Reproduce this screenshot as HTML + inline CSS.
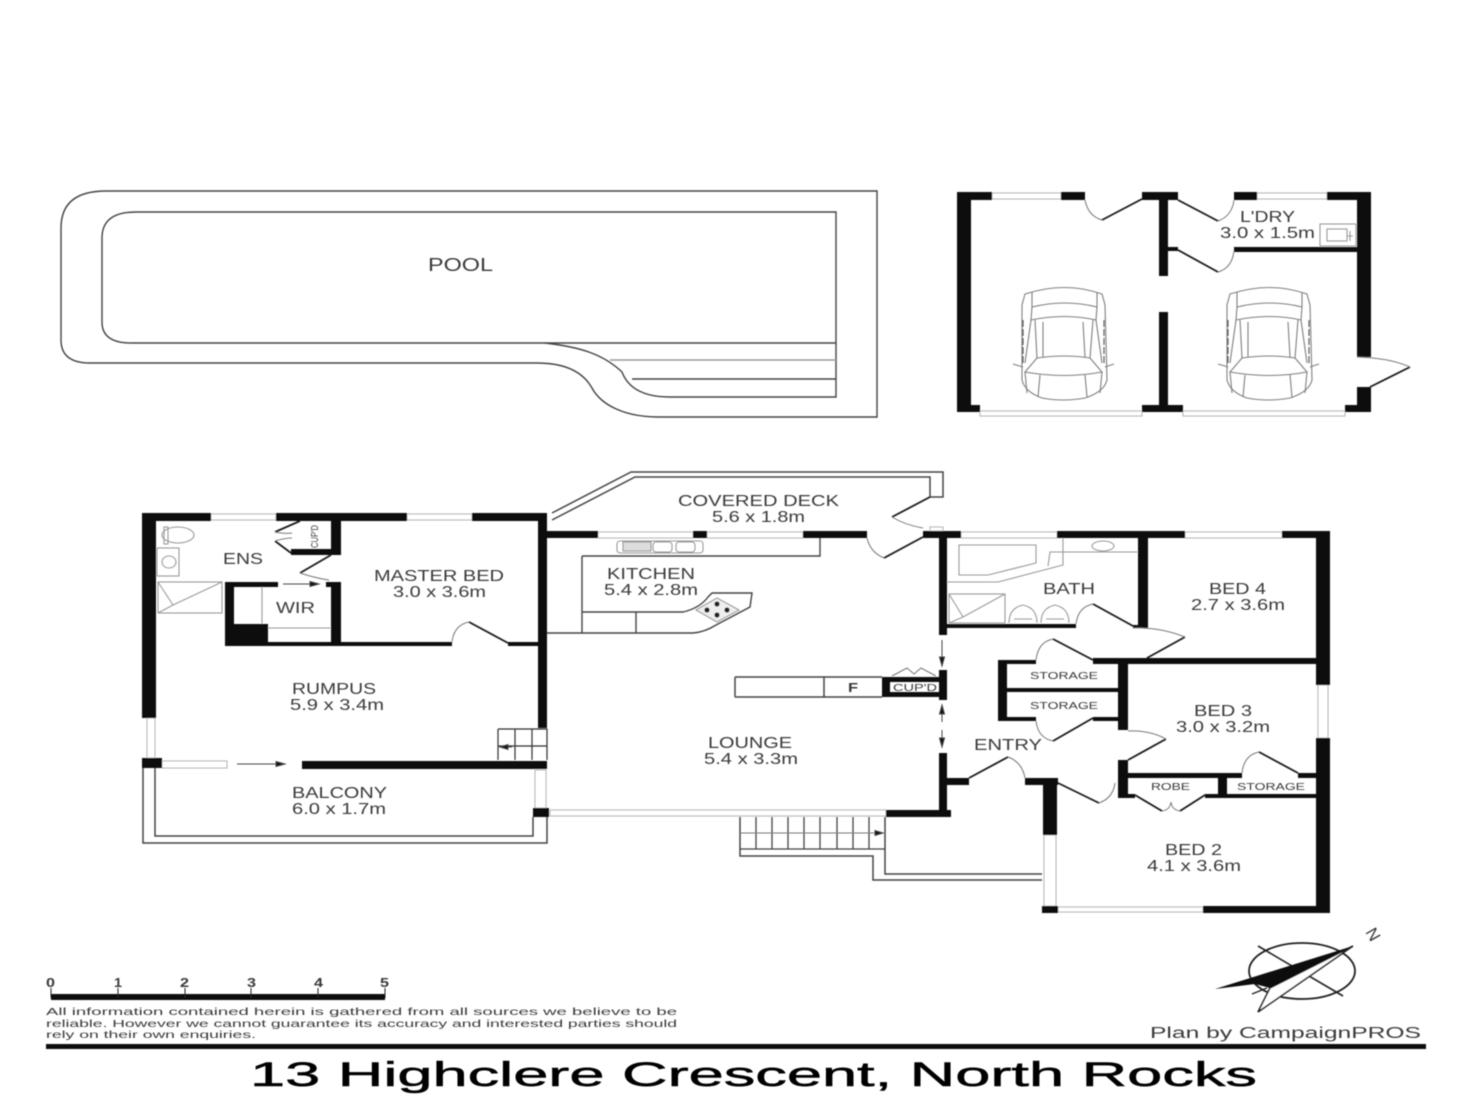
<!DOCTYPE html>
<html lang="en">
<head>
<meta charset="utf-8">
<title>13 Highclere Crescent, North Rocks floor plan</title>
<style>
html,body{margin:0;padding:0;background:#fff;width:1472px;height:1104px;overflow:hidden}
svg{display:block}
text{font-family:"Liberation Sans",sans-serif;fill:#3a3a3a}
.g{fill:none;stroke:#9a9a9a;stroke-width:1.1}
.d{fill:none;stroke:#1c1c1c;stroke-width:1.8}
.a{fill:none;stroke:#777;stroke-width:1}
.win{fill:#fff;stroke:#b5b5b5;stroke-width:1.1}
.l{fill:none;stroke:#444;stroke-width:1.5}
</style>
</head>
<body>
<svg width="1472" height="1104" viewBox="0 0 1472 1104" xmlns="http://www.w3.org/2000/svg">
<defs>
<filter id="b" x="-2%" y="-2%" width="104%" height="104%"><feGaussianBlur stdDeviation="0.65"/></filter>
<g id="car" fill="none" stroke="#7f7f7f" stroke-width="1.1">
<path d="M1025 294Q1065 281 1102 294L1105 305L1107 380Q1104 392 1085 398Q1063 402 1042 398Q1025 392 1022 380L1022 305Z"/>
<path d="M1032 292V307Q1065 299 1097 307V292"/>
<path d="M1032 307L1031 320Q1065 313 1096 320L1097 307"/>
<path d="M1035 320L1037 358Q1065 354 1090 358L1093 320"/>
<path d="M1037 358L1025 372Q1065 379 1102 372L1090 358"/>
<path d="M1043 322V357M1083 322L1085 357"/>
<path d="M1031 320L1025 363M1096 320L1102 363"/>
<path d="M1025 372L1027 393M1102 372L1100 393"/>
<path d="M1040 375L1038 397M1085 375L1087 397"/>
<path d="M1013 364L1023 367M1114 364L1105 367"/>
<path d="M1023 320V365M1104 320V365" stroke="#555" stroke-dasharray="7 2"/>
</g>
</defs>
<rect width="1472" height="1104" fill="#fff"/>
<g filter="url(#b)">

<!-- Pool -->
<g fill="none" stroke="#444" stroke-width="1.4">
<path d="M877 191H106Q61 191 61 228V340Q61 363 90 363H537C565 363 583 372 592 388C601 405 625 417 658 417H877Z"/>
<path d="M836 212H136Q102 212 102 238V322Q102 343 131 343H545C580 347 603 354 622 372C628 388 643 397 670 397H836Z"/>
<path d="M545 343H836"/>
<path d="M632 379H836"/>
<path d="M610 360H836" stroke="#999"/>
</g>

<!-- Cars -->
<use href="#car"/>
<use href="#car" transform="translate(205 0)"/>

<!-- Windows -->
<g class="win">
<rect x="992" y="193" width="69" height="6"/>
<rect x="1257" y="193" width="70" height="6"/>
<rect x="980" y="411" width="162" height="5"/>
<rect x="1183" y="411" width="162" height="5"/>
<rect x="211" y="514" width="65" height="6"/>
<rect x="407" y="514" width="65" height="6"/>
<rect x="147" y="718" width="8" height="40"/>
<rect x="162" y="761" width="65" height="7"/>
<rect x="535" y="770" width="11" height="38"/>
<rect x="598" y="532" width="95" height="6"/>
<rect x="707" y="532" width="96" height="6"/>
<rect x="550" y="810" width="336" height="6"/>
<rect x="961" y="532" width="96" height="6"/>
<rect x="1185" y="532" width="97" height="6"/>
<rect x="1318" y="685" width="10" height="53"/>
<rect x="1044" y="835" width="12" height="71"/>
<rect x="1058" y="907" width="145" height="5"/>
<rect x="930" y="527" width="13" height="4"/>
</g>

<!-- Balcony, deck, rails -->
<g class="l">
<path d="M143 768V843H547V817"/>
<path d="M155 768V836H533V817"/>
<path d="M552 513L631 472H943V497H930"/>
<path d="M552 520L635 477H930V497"/>
<path d="M740 817V856H873V880H1042"/>
<path d="M885 817V874H1042"/>
<path d="M756 817V849M772 817V849M788 817V849M804 817V849M820 817V849M837 817V849M853 817V849M869 817V849M740 849H885" stroke-width="1.3"/>
<path d="M740 833H885" stroke-width="1" stroke="#777"/>
<path d="M498 729H547V760M498 729V760M515 729V760M532 729V760M498 746H547" stroke-width="1.2" stroke="#333"/>
<!-- Kitchen -->
<path d="M582 556H820V538M582 556V633M547 633H693Q705 632 716 625L750 607L752 593H712L708 597Q700 608 683 612H582M636 612V633" stroke-width="1.4"/>
<path d="M735 677H882M735 697H882M735 677V697M824 677V697" stroke-width="1.5"/>
</g>

<!-- Fixtures -->
<g class="g">
<rect x="617" y="541" width="86" height="12" rx="3"/>
<rect x="623" y="542" width="28" height="9" fill="#ddd"/>
<rect x="653" y="542" width="19" height="10" rx="3"/>
<rect x="676" y="542" width="19" height="10" rx="3"/>
<ellipse cx="178" cy="535" rx="16" ry="8"/>
<rect x="164" y="527" width="4" height="17"/>
<rect x="157" y="548" width="22" height="28"/>
<ellipse cx="169" cy="562" rx="7" ry="6"/>
<rect x="158" y="582" width="64" height="31"/>
<path d="M158 582L173 605M222 582L173 605M158 613L173 605"/>
<path d="M262 587V624M268 628H331"/>
<rect x="1320" y="224" width="36" height="22"/>
<rect x="1327" y="229" width="20" height="12"/>
<path d="M1347 236H1353M1350 231V241"/>
<path d="M959 545H1036V563L988 575H959Z"/>
<path d="M1063 538V565L998 582H947"/>
<path d="M1138 552H1050L1048 566"/>
<ellipse cx="1103" cy="546" rx="11" ry="5"/>
<rect x="949" y="594" width="56" height="29"/>
<path d="M949 594L963 617M1005 594L963 617M949 623L963 617"/>
<path d="M1009 623Q1009 608 1023 605Q1037 608 1037 623M1041 623Q1041 608 1055 605Q1069 608 1069 623"/>
<path d="M1014 619H1032M1046 619H1064"/>
<path d="M696 610L717 598L739 610L717 622Z" fill="#eee"/>
</g>
<g fill="#222">
<circle cx="717" cy="604" r="2.6"/><circle cx="707" cy="610" r="2.6"/><circle cx="727" cy="610" r="2.6"/><circle cx="717" cy="615" r="2.6"/>
</g>

<!-- Walls -->
<path fill="#111" d="M957 192H992V200H957ZM957 192H971V412H957ZM1061 192H1085V200H1061ZM1142 192H1178V200H1142ZM1234 192H1257V200H1234ZM1327 192H1371V200H1327ZM1357 192H1371V357H1357ZM1357 387H1371V412H1357ZM1345 405H1371V412H1345ZM1159 192H1168V276H1159ZM1159 312H1168V412H1159ZM1168 247H1178V251H1168ZM1234 247H1357V252H1234ZM957 405H980V412H957ZM1142 405H1183V412H1142Z
M142 513H211V521H142ZM276 513H407V521H276ZM472 513H547V521H472ZM142 513H156V718H142ZM538 513H547V728H538ZM142 758H162V768H142ZM302 761H547V769H302ZM331 521H341V555H331ZM291 549H341V555H291ZM331 582H341V646H331ZM225 582H234V646H225ZM225 582H278V587H225ZM326 582H331V587H326ZM225 624H268V646H225ZM225 642H452V646H225ZM508 642H538V646H508Z
M547 531H598V538H547ZM693 531H707V538H693ZM803 531H867V538H803ZM923 531H961V538H923ZM939 538H947V635H939ZM939 670H947V700H939ZM882 677H939V682H890V692H939V697H882ZM939 753H947V817H939ZM886 810H951V817H886ZM947 778H969V785H947ZM1025 778H1058V785H1025ZM1043 785H1057V835H1043ZM533 808H549V817H533Z
M1057 531H1185V538H1057ZM1282 531H1330V538H1282ZM1316 531H1330V685H1316ZM1316 738H1330V913H1316ZM1042 906H1058V913H1042ZM1203 906H1330V913H1203ZM1138 538H1148V628H1138ZM947 624H1076V628H947ZM1133 625H1148V628H1133ZM1093 658H1316V664H1093ZM998 660H1007V721H998ZM998 660H1036V664H998ZM1007 688H1118V692H1007ZM998 717H1036V721H998ZM1093 717H1118V721H1093ZM1118 663H1128V730H1118ZM1118 760H1128V798H1118ZM1128 773H1242V778H1128ZM1298 773H1316V778H1298ZM1218 778H1227V795H1218ZM1118 794H1135V798H1118ZM1205 794H1316V798H1205Z"/>
<rect x="540" y="513" width="7" height="18" fill="#111"/>

<!-- Doors -->
<g class="d">
<path d="M1142 199L1102 220"/><path d="M1178 200L1218 221"/><path d="M1178 250L1218 272"/><path d="M1370 387L1410 367"/>
<path d="M469 622L508 643"/><path d="M884 558L923 537"/><path d="M930 497L892 517"/>
<path d="M1093 604L1133 626"/><path d="M1147 658L1185 637"/><path d="M1053 639L1093 660"/><path d="M1053 741L1093 718"/>
<path d="M1128 760L1166 739"/><path d="M969 778L1008 757"/><path d="M1058 783L1099 803"/><path d="M1259 752L1298 773"/>
<path d="M1135 795L1162 811M1180 811L1205 795"/>
<path d="M300 521L275 532M291 553L275 541"/>
<path d="M331 555L300 573"/>
</g>
<g class="a">
<path d="M1085 200Q1088 216 1102 220M1218 221Q1232 216 1234 200M1218 272Q1232 268 1234 251M1357 357Q1390 358 1410 367"/>
<path d="M452 642Q454 625 469 622M867 538Q870 552 884 558M892 517Q905 525 923 528"/>
<path d="M1076 624Q1078 607 1093 604M1185 637Q1160 627 1133 628M1036 660Q1038 642 1053 639M1036 721Q1038 738 1053 741"/>
<path d="M1166 739Q1150 730 1128 731M1008 757Q1022 762 1025 778M1099 803Q1113 798 1115 783M1242 773Q1244 755 1259 752"/>
<path d="M1162 811Q1170 810 1171 802Q1172 810 1180 811"/>
<path d="M892 676L907 668L914 674L921 668L936 676"/>
<path d="M300 573Q315 578 329 580"/>
<path d="M275 532Q285 534 292 533M275 541Q285 538 292 538"/>
</g>

<!-- Arrows -->
<g stroke="#444" stroke-width="1" fill="#111">
<path d="M237 764H278"/><path d="M285 764L276 761.5V766.5Z"/>
<path d="M283 584H312"/><path d="M319 584L310 581.5V586.5Z"/>
<path d="M942 640V658"/><path d="M942 666L939.5 657H944.5Z"/>
<path d="M942 712V722M942 730V740"/><path d="M942 705L939.5 714H944.5Z"/><path d="M942 747L939.5 738H944.5Z"/>
<path d="M505 747H512"/><path d="M500 747L508 744.5V749.5Z"/>
<path d="M875 833H882"/><path d="M883 833L875 830.5V835.5Z"/>
</g>

<!-- Compass -->
<ellipse cx="1302" cy="971" rx="53" ry="28" fill="none" stroke="#222" stroke-width="1.8"/>
<path d="M1258 946L1343 996" stroke="#222" stroke-width="1.6" fill="none"/>
<path d="M1353 946L1258 1012L1270 988Z" fill="#fff" stroke="#222" stroke-width="1.6"/>
<path d="M1215 989L1353 946L1270 988L1255 984Z" fill="#111"/>
<path d="M1252 994L1267 988" stroke="#222" stroke-width="1.4"/>

<!-- Scale and rules -->
<path fill="#111" d="M51 994H385V1000H51ZM46 1044H1426V1049H46Z"/>
<path stroke="#222" stroke-width="1" d="M51 988V998M118 988V998M185 988V998M251 988V998M318 988V998M385 988V998"/>

<!-- Labels -->
<g font-size="15.5">
<text x="428" y="271" font-size="18" textLength="65" lengthAdjust="spacingAndGlyphs">POOL</text>
<text x="678" y="506" textLength="161" lengthAdjust="spacingAndGlyphs">COVERED DECK</text>
<text x="712" y="522" textLength="93" lengthAdjust="spacingAndGlyphs">5.6 x 1.8m</text>
<text x="374" y="581" textLength="130" lengthAdjust="spacingAndGlyphs">MASTER BED</text>
<text x="393" y="597" textLength="93" lengthAdjust="spacingAndGlyphs">3.0 x 3.6m</text>
<text x="223" y="564" textLength="40" lengthAdjust="spacingAndGlyphs">ENS</text>
<text x="276" y="613" textLength="39" lengthAdjust="spacingAndGlyphs">WIR</text>
<text x="292" y="694" textLength="84" lengthAdjust="spacingAndGlyphs">RUMPUS</text>
<text x="290" y="710" textLength="94" lengthAdjust="spacingAndGlyphs">5.9 x 3.4m</text>
<text x="292" y="798" textLength="95" lengthAdjust="spacingAndGlyphs">BALCONY</text>
<text x="292" y="814" textLength="94" lengthAdjust="spacingAndGlyphs">6.0 x 1.7m</text>
<text x="607" y="579" textLength="88" lengthAdjust="spacingAndGlyphs">KITCHEN</text>
<text x="604" y="595" textLength="94" lengthAdjust="spacingAndGlyphs">5.4 x 2.8m</text>
<text x="708" y="748" textLength="84" lengthAdjust="spacingAndGlyphs">LOUNGE</text>
<text x="704" y="764" textLength="94" lengthAdjust="spacingAndGlyphs">5.4 x 3.3m</text>
<text x="1043" y="594" textLength="52" lengthAdjust="spacingAndGlyphs">BATH</text>
<text x="1209" y="594" textLength="57" lengthAdjust="spacingAndGlyphs">BED 4</text>
<text x="1191" y="610" textLength="94" lengthAdjust="spacingAndGlyphs">2.7 x 3.6m</text>
<text x="1194" y="716" textLength="58" lengthAdjust="spacingAndGlyphs">BED 3</text>
<text x="1176" y="732" textLength="94" lengthAdjust="spacingAndGlyphs">3.0 x 3.2m</text>
<text x="1165" y="855" textLength="57" lengthAdjust="spacingAndGlyphs">BED 2</text>
<text x="1147" y="871" textLength="94" lengthAdjust="spacingAndGlyphs">4.1 x 3.6m</text>
<text x="974" y="750" textLength="68" lengthAdjust="spacingAndGlyphs">ENTRY</text>
<text x="1240" y="222" textLength="55" lengthAdjust="spacingAndGlyphs">L'DRY</text>
<text x="1220" y="238" textLength="95" lengthAdjust="spacingAndGlyphs">3.0 x 1.5m</text>
<text x="848" y="692" font-size="13" font-weight="bold" textLength="10" lengthAdjust="spacingAndGlyphs">F</text>
</g>
<g font-size="10.5" fill="#555">
<text x="1030" y="679" textLength="68" lengthAdjust="spacingAndGlyphs">STORAGE</text>
<text x="1030" y="709" textLength="68" lengthAdjust="spacingAndGlyphs">STORAGE</text>
<text x="1237" y="790" textLength="68" lengthAdjust="spacingAndGlyphs">STORAGE</text>
<text x="1151" y="790" textLength="39" lengthAdjust="spacingAndGlyphs">ROBE</text>
<text x="893" y="691" textLength="44" lengthAdjust="spacingAndGlyphs">CUP'D</text>
<text transform="translate(309 548) rotate(-90)" font-size="10" textLength="23" lengthAdjust="spacingAndGlyphs" y="9">CUP'D</text>
</g>
<g font-size="12.5" font-weight="bold" fill="#222">
<text x="46" y="987" textLength="9" lengthAdjust="spacingAndGlyphs">0</text>
<text x="114" y="987" textLength="8" lengthAdjust="spacingAndGlyphs">1</text>
<text x="180" y="987" textLength="9" lengthAdjust="spacingAndGlyphs">2</text>
<text x="247" y="987" textLength="9" lengthAdjust="spacingAndGlyphs">3</text>
<text x="314" y="987" textLength="9" lengthAdjust="spacingAndGlyphs">4</text>
<text x="380" y="987" textLength="9" lengthAdjust="spacingAndGlyphs">5</text>
</g>
<g font-size="10.5" style="fill:#333">
<text x="46" y="1015" textLength="631" lengthAdjust="spacingAndGlyphs">All information contained herein is gathered from all sources we believe to be</text>
<text x="46" y="1027" textLength="631" lengthAdjust="spacingAndGlyphs">reliable. However we cannot guarantee its accuracy and interested parties should</text>
<text x="46" y="1038" textLength="210" lengthAdjust="spacingAndGlyphs">rely on their own enquiries.</text>
</g>
<text x="1150" y="1038" font-size="15.5" textLength="271" lengthAdjust="spacingAndGlyphs">Plan by CampaignPROS</text>
<text x="250" y="1086" font-size="34" style="fill:#000;stroke:#000;stroke-width:.5" textLength="1007" lengthAdjust="spacingAndGlyphs">13 Highclere Crescent, North Rocks</text>
<text transform="translate(1365 932) rotate(60)" font-size="17">N</text>
</g>
</svg>
</body>
</html>
